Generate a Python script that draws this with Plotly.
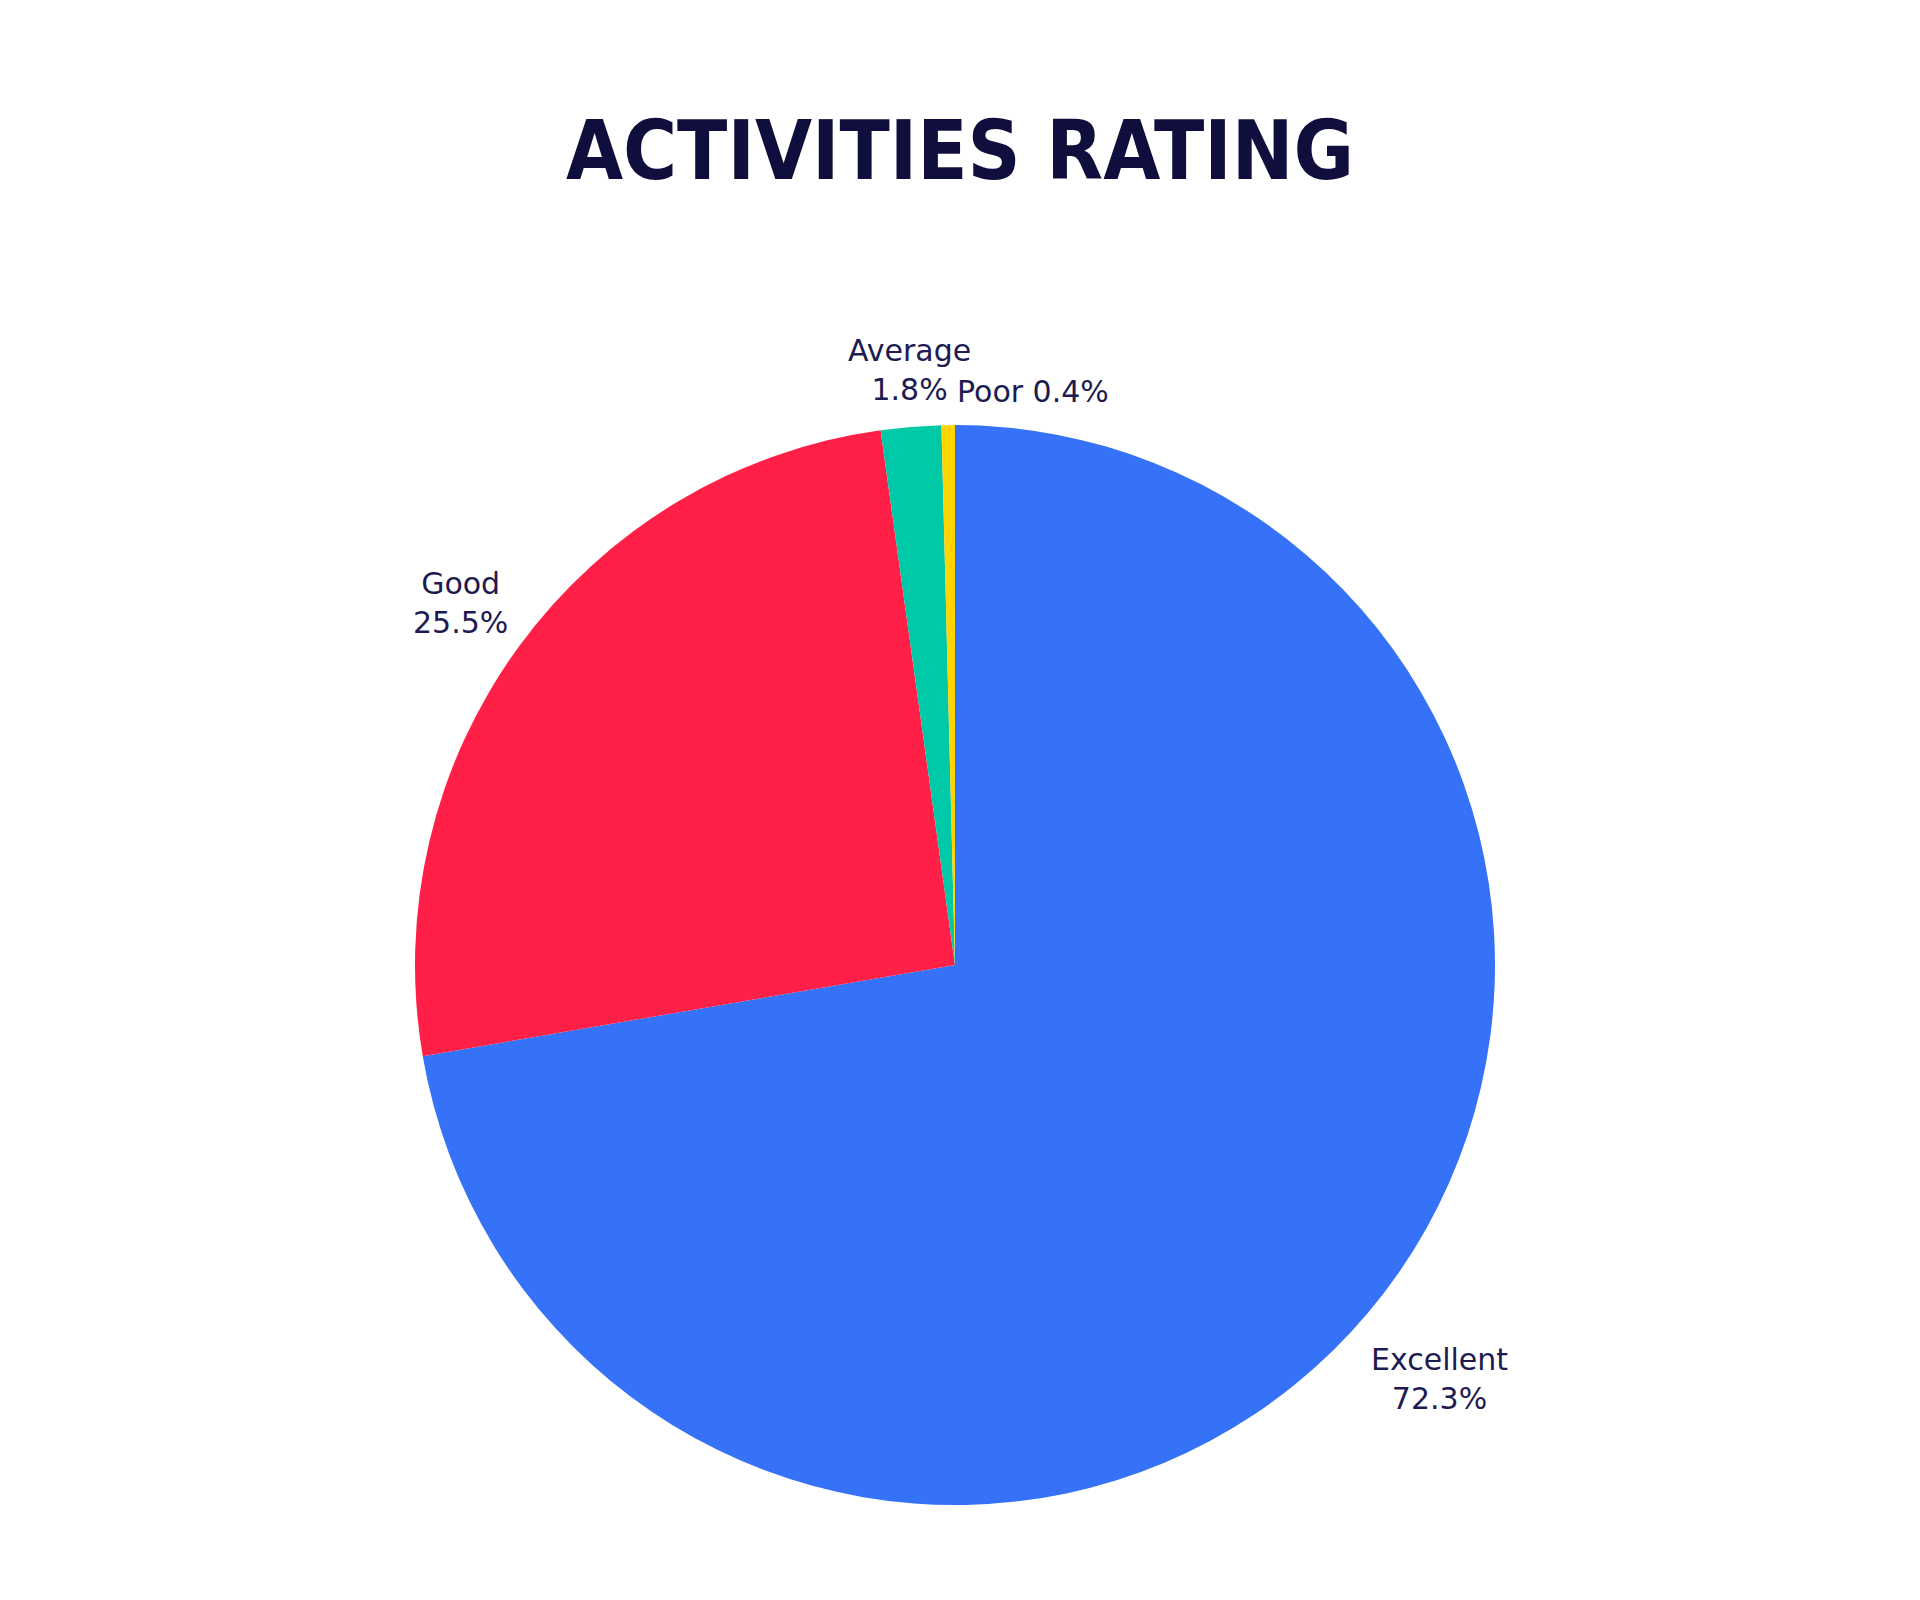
import plotly.graph_objects as go

# Activities rating shares
ratings = ["Excellent", "Good", "Average", "Poor"]
shares = [72.3, 25.5, 1.8, 0.4]
slice_colors = ["#3572f8", "#ff1f47", "#00c9a7", "#ffd400"]

# where each label sits (paper coords) and how its text is laid out
label_x = [0.7559, 0.2389, 0.4762, 0.5]
label_y = [0.1167, 0.8352, 1.0505, 1.0310]
label_anchor = ["center", "center", "center", "left"]
label_sep = ["<br>", "<br>", "<br>", " "]

fig = go.Figure(
    go.Pie(
        labels=ratings,
        values=shares,
        sort=False,
        direction="clockwise",
        rotation=0,
        marker=dict(colors=slice_colors, line=dict(width=0)),
        textinfo="none",
        showlegend=False,
        hoverinfo="label+percent",
    )
)

total = sum(shares)
for name, val, x, y, anchor, sep in zip(ratings, shares, label_x, label_y, label_anchor, label_sep):
    fig.add_annotation(
        text=f"{name}{sep}{val / total * 100:.1f}%",
        x=x, y=y, xref="paper", yref="paper",
        xanchor=anchor, yanchor="middle",
        showarrow=False, align="center",
        font=dict(family="DejaVu Sans", size=30, color="#1d1b52"),
    )

fig.update_layout(
    width=1920,
    height=1600,
    paper_bgcolor="white",
    plot_bgcolor="white",
    margin=dict(l=0, r=26, t=417, b=103),
    title=dict(
        text="<b>ACTIVITIES RATING</b>",
        x=0.4958,
        xanchor="center",
        y=0.911,
        yanchor="middle",
        yref="container",
        font=dict(family="DejaVu Sans Condensed, DejaVu Sans", size=82, color="#0f0e3d"),
    ),
)

fig.write_html("out.html")
